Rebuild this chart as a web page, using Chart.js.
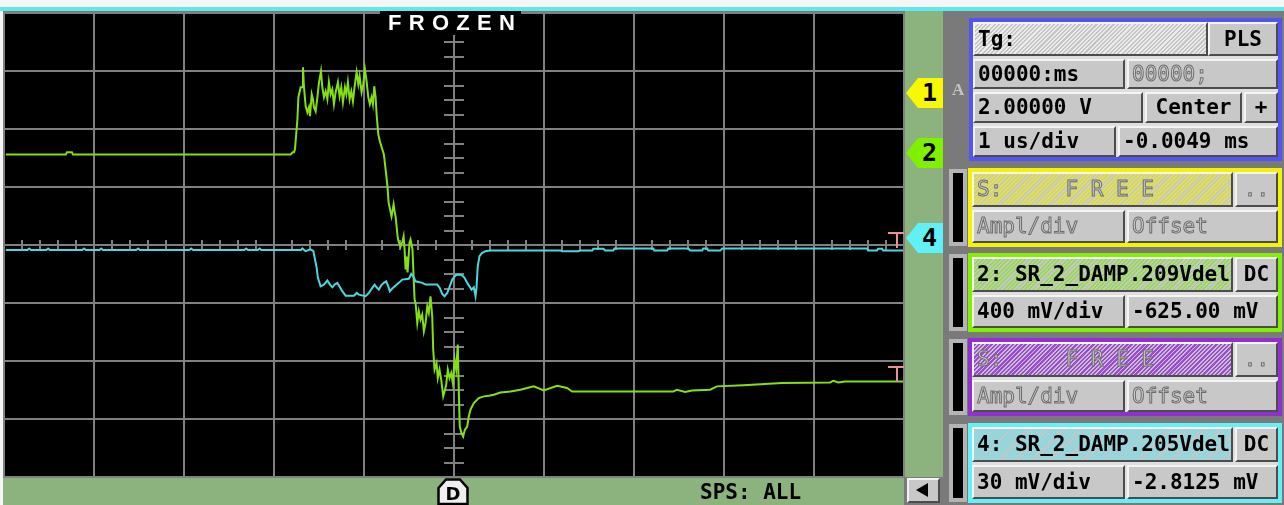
<!DOCTYPE html>
<html>
<head>
<meta charset="utf-8">
<script src="https://cdn.jsdelivr.net/npm/chart.js@4.4.0/dist/chart.umd.min.js"></script>
<style>
body{margin:0;width:1284px;height:505px;overflow:hidden;background:#7a7a7a;position:relative;font-family:"DejaVu Sans Mono",monospace}
.abs{position:absolute}
#scope{position:absolute;left:0;top:0;z-index:1}
.c{position:absolute;box-sizing:border-box;background:#c8c8c8;border:2px solid;border-color:#f4f4f4 #4c4c4c #4c4c4c #f4f4f4;
   font:bold 21px "DejaVu Sans Mono",monospace;color:#000;padding-left:3px;white-space:pre;overflow:hidden;z-index:4}
.ctr{text-align:center;padding-left:0}
.dis{color:#d0d0d0;-webkit-text-stroke:1px #6c6c6c;font-weight:normal}
.fr{position:absolute;box-sizing:border-box;border:4px solid;background:#dedede;z-index:3}
.bar{position:absolute;box-sizing:border-box;left:949px;width:18px;border:4px solid #b4b4b4;background:#000;z-index:3}
.hg{background:repeating-linear-gradient(135deg,#ececec 0 1.5px,#c4c4c4 1.5px 3px)}
.hy{background:repeating-linear-gradient(135deg,#e8e820 0 1.3px,#c8c8c8 1.3px 3px)}
.hgr{background:repeating-linear-gradient(135deg,#8ee040 0 1.3px,#c6c6c6 1.3px 3px)}
.hp{background:repeating-linear-gradient(135deg,#a048d8 0 1.7px,#c4c4c4 1.7px 3px)}
.hc{background:repeating-linear-gradient(135deg,#6ce4f0 0 1.3px,#c6c6c6 1.3px 3px)}
.mk{position:absolute;left:906px;width:37px;height:30px;clip-path:polygon(0 50%,12px 0,100% 0,100% 100%,12px 100%);
    font:bold 25px "DejaVu Sans Mono",monospace;line-height:30px;text-align:right;padding-right:6px;box-sizing:border-box;z-index:3}
</style>
</head>
<body>
<div class="abs" style="left:0;top:0;width:1284px;height:7px;background:#f6f6f6"></div>
<div class="abs" style="left:0;top:7px;width:1284px;height:4px;background:#5ee8f0"></div>
<div class="abs" style="left:0;top:11px;width:3px;height:494px;background:#f6f6f6"></div>
<div class="abs" style="left:905px;top:11px;width:38px;height:466px;background:#8cb27e"></div>
<div class="abs" style="left:3px;top:478px;width:901px;height:27px;background:#8cb27e"></div>

<canvas id="scope" width="1284" height="505"></canvas>

<div class="abs" style="left:380px;top:11px;width:141px;height:24px;background:#000;z-index:3"></div>
<div class="abs" style="left:388px;top:12px;z-index:4;color:#fff;font:bold 22px 'Liberation Sans',sans-serif;letter-spacing:7.3px;line-height:22px">FROZEN</div>

<svg class="abs" style="left:437px;top:478px;z-index:3" width="32" height="27">
  <polygon points="1.5,26 1.5,10 9,1.5 23,1.5 30.5,10 30.5,26" fill="#efefef" stroke="#000" stroke-width="2.5"/>
  <text x="16" y="22" text-anchor="middle" font-family="DejaVu Sans" font-weight="bold" font-size="18">D</text>
</svg>
<div class="abs" style="left:700px;top:480px;z-index:3;font:bold 21px 'DejaVu Sans Mono',monospace;line-height:25px;white-space:pre">SPS: ALL</div>

<div class="c" style="left:907px;top:478px;width:33px;height:25px"></div>
<div class="abs" style="left:916px;top:483px;width:0;height:0;border-top:7px solid transparent;border-bottom:7px solid transparent;border-right:12px solid #000;z-index:5"></div>

<div class="mk" style="top:78px;background:#f8f800">1</div>
<div class="mk" style="top:138px;background:#80f000">2</div>
<div class="mk" style="top:223px;background:#60f0f8">4</div>
<div class="abs" style="left:952px;top:80px;color:#c4c4c4;font:bold 17px 'Liberation Serif',serif;z-index:3">A</div>

<!-- timebase / trigger block -->
<div class="fr" style="left:969px;top:18px;width:313px;height:143px;border-color:#5454f4"></div>
<div class="c hg" style="left:973px;top:22px;width:235px;height:34px;line-height:30px">Tg:</div>
<div class="c ctr" style="left:1208px;top:22px;width:70px;height:34px;line-height:30px">PLS</div>
<div class="c" style="left:973px;top:59px;width:152px;height:30px;line-height:26px">00000:ms</div>
<div class="c dis" style="left:1127px;top:59px;width:151px;height:30px;line-height:26px">00000;</div>
<div class="c" style="left:973px;top:92px;width:170px;height:31px;line-height:27px">2.00000 V</div>
<div class="c ctr" style="left:1145px;top:92px;width:97px;height:31px;line-height:27px">Center</div>
<div class="c ctr" style="left:1244px;top:92px;width:34px;height:31px;line-height:27px">+</div>
<div class="c" style="left:973px;top:126px;width:143px;height:31px;line-height:27px">1 us/div</div>
<div class="c" style="left:1118px;top:126px;width:160px;height:31px;line-height:27px">-0.0049 ms</div>

<!-- channel 1 (free) -->
<div class="bar" style="top:169px;height:77px"></div>
<div class="fr" style="left:968px;top:168px;width:314px;height:79px;border-color:#f4f400"></div>
<div class="c dis hy" style="left:972px;top:172px;width:261px;height:35px;line-height:31px">S:     F R E E</div>
<div class="c dis ctr" style="left:1235px;top:172px;width:43px;height:35px;line-height:31px">..</div>
<div class="c dis" style="left:972px;top:210px;width:153px;height:33px;line-height:29px">Ampl/div</div>
<div class="c dis" style="left:1127px;top:210px;width:151px;height:33px;line-height:29px">Offset</div>

<!-- channel 2 -->
<div class="bar" style="top:254px;height:77px"></div>
<div class="fr" style="left:968px;top:253px;width:314px;height:79px;border-color:#84f000"></div>
<div class="c hgr" style="left:972px;top:257px;width:261px;height:35px;line-height:31px">2: SR_2_DAMP.209Vdel</div>
<div class="c ctr" style="left:1235px;top:257px;width:43px;height:35px;line-height:31px">DC</div>
<div class="c" style="left:972px;top:295px;width:153px;height:33px;line-height:29px">400 mV/div</div>
<div class="c" style="left:1127px;top:295px;width:151px;height:33px;line-height:29px">-625.00 mV</div>

<!-- channel 3 (free) -->
<div class="bar" style="top:339px;height:76px"></div>
<div class="fr" style="left:968px;top:338px;width:314px;height:78px;border-color:#9030d0"></div>
<div class="c dis hp" style="left:972px;top:342px;width:261px;height:35px;line-height:31px">S:     F R E E</div>
<div class="c dis ctr" style="left:1235px;top:342px;width:43px;height:35px;line-height:31px">..</div>
<div class="c dis" style="left:972px;top:380px;width:153px;height:32px;line-height:28px">Ampl/div</div>
<div class="c dis" style="left:1127px;top:380px;width:151px;height:32px;line-height:28px">Offset</div>

<!-- channel 4 -->
<div class="bar" style="top:424px;height:78px"></div>
<div class="fr" style="left:968px;top:423px;width:314px;height:80px;border-color:#64f0f4"></div>
<div class="c hc" style="left:972px;top:427px;width:261px;height:35px;line-height:31px">4: SR_2_DAMP.205Vdel</div>
<div class="c ctr" style="left:1235px;top:427px;width:43px;height:35px;line-height:31px">DC</div>
<div class="c" style="left:972px;top:465px;width:153px;height:34px;line-height:30px">30 mV/div</div>
<div class="c" style="left:1127px;top:465px;width:151px;height:34px;line-height:30px">-2.8125 mV</div>

<script>
// time in us (1 us/div, 10 div), values in mV
var ch2Scale = 400, ch2Offset = -625;
var ch4Scale = 30, ch4Offset = -2.8125;
var trig2Level = -1464, trig4Level = 3.2;

var ch2Time = [-4.98,-4.312,-4.301,-4.245,-4.234,-1.815,-1.792,-1.778,-1.767,-1.740,-1.729,-1.704,-1.685,-1.678,-1.667,-1.648,-1.629,-1.612,-1.600,-1.581,-1.567,-1.556,-1.537,-1.518,-1.501,-1.478,-1.463,-1.445,-1.426,-1.407,-1.390,-1.371,-1.352,-1.334,-1.315,-1.290,-1.271,-1.252,-1.234,-1.212,-1.196,-1.179,-1.160,-1.141,-1.123,-1.104,-1.082,-1.063,-1.049,-1.027,-1.008,-0.990,-0.971,-0.952,-0.935,-0.916,-0.901,-0.886,-0.871,-0.860,-0.841,-0.824,-0.797,-0.779,-0.760,
  -0.738,-0.727,-0.694,-0.671,-0.660,-0.649,-0.627,-0.616,-0.594,-0.572,-0.560,-0.549,-0.538,-0.527,-0.516,-0.494,-0.483,-0.461,-0.449,-0.438,
  -0.427,-0.408,-0.391,-0.372,-0.353,-0.335,-0.316,-0.297,-0.280,-0.261,-0.242,-0.231,-0.216,-0.194,-0.180,-0.161,-0.142,-0.120,-0.105,-0.087,-0.069,-0.050,-0.031,-0.013,0.006,0.024,0.042,0.053,0.064,0.083,0.102,0.120,0.147,0.164,0.183,0.220,0.275,0.331,0.386,0.442,0.516,0.627,
  0.738,0.812,0.886,0.997,1.145,1.256,1.312,2.439,2.477,2.569,2.644,2.847,2.921,3.216,3.643,4.179,4.215,4.271,4.345,4.99];
var ch2Volt = [0,0,14,14,0,0,14,14,35,242,394,463,463,601,463,332,290,325,263,415,380,325,297,394,491,574,463,394,435,380,498,415,449,346,429,498,401,463,359,463,415,498,380,435,366,470,567,484,539,429,484,588,504,394,346,394,346,470,394,277,138,90,35,0,-103,
  -228,-331,-428,-345,-394,-428,-566,-601,-635,-601,-566,-656,-794,-704,-815,-608,-587,-656,-843,-1001,
  -1024,-1162,-1082,-1140,-1105,-1220,-1162,-1048,-1093,-979,-1117,-1347,-1485,-1439,-1542,-1485,-1554,-1669,-1635,-1589,-1485,-1542,-1508,-1577,-1416,-1485,-1312,-1623,-1877,-1922,-1946,-1900,-1877,-1808,-1761,-1715,-1681,-1669,-1665,-1658,-1642,-1635,
  -1623,-1611,-1600,-1628,-1596,-1611,-1635,-1635,-1623,-1639,-1628,-1623,-1600,-1593,-1577,-1573,-1561,-1573,-1566,-1566];

var ch4Time = [-4.98,-4.74,-4.72,-4.70,-4.53,-4.51,-4.49,-4.13,-4.11,-4.09,-3.94,-3.92,-3.90,-3.53,-3.51,-3.49,-2.94,-2.92,-2.90,-2.33,-2.31,-2.29,-2.18,-2.16,-2.14,
  -1.70,-1.685,-1.648,-1.593,-1.563,-1.548,-1.526,-1.512,-1.482,-1.445,-1.407,-1.378,-1.352,-1.326,-1.296,-1.267,-1.241,-1.204,-1.112,-1.082,-1.057,-0.982,-0.946,-0.908,-0.882,-0.860,-0.835,-0.808,-0.779,-0.753,-0.730,-0.713,-0.686,-0.613,-0.575,-0.502,-0.475,-0.453,-0.427,-0.353,-0.316,-0.186,-0.158,-0.131,-0.105,-0.075,-0.047,-0.020,0.017,0.053,0.091,0.117,0.147,0.172,0.194,0.220,0.239,0.250,0.264,0.283,0.313,0.350,0.405,0.438,
  1.182,1.204,1.382,1.404,1.537,1.548,1.659,1.681,1.770,1.782,2.214,2.225,2.369,2.381,2.603,2.625,2.758,2.769,2.814,2.825,2.958,2.981,4.590,4.601,4.701,4.712,4.756,4.767,4.99];
var ch4Volt = [-5.4,-5.4,-4.6,-5.4,-5.4,-4.6,-5.4,-5.4,-4.6,-5.4,-5.4,-4.6,-5.4,-5.4,-4.6,-5.4,-5.4,-4.6,-5.4,-5.4,-4.6,-5.4,-5.4,-4.6,-5.4,
  -5.4,-4.6,-6.0,-5.1,-6.0,-9.4,-14.6,-19.8,-24.2,-23.3,-21.2,-23.3,-24.7,-23.3,-22.4,-24.7,-26.7,-29.0,-29.0,-27.6,-28.5,-29.3,-27.6,-25.0,-23.3,-24.7,-25.9,-23.6,-22.4,-21.6,-24.2,-26.7,-25.3,-22.4,-20.7,-20.3,-17.7,-19.0,-21.6,-22.4,-23.3,-23.3,-25.0,-28.1,-29.3,-27.6,-24.2,-20.7,-18.5,-18.1,-18.5,-19.8,-22.4,-24.2,-25.9,-24.7,-29.3,-25.0,-13.8,-8.6,-6.9,-6.0,-5.7,-5.7,
  -5.7,-6.0,-6.0,-5.7,-5.7,-4.8,-4.8,-5.7,-5.7,-4.6,-4.6,-5.7,-5.7,-4.6,-4.6,-5.7,-5.7,-4.6,-4.6,-5.7,-5.7,-4.6,-4.6,-5.7,-5.7,-4.8,-4.8,-5.7,-5.7];

var gridColor = '#808080';

function pairs(t, v) {
  return t.map(function(x, i){ return {x: x, y: v[i]}; });
}

var scopeDecor = {
  id: 'scopeDecor',
  beforeDraw: function(chart) {
    var a = chart.chartArea, ctx = chart.ctx;
    ctx.save();
    ctx.fillStyle = '#000';
    ctx.fillRect(a.left, a.top, a.right - a.left, a.bottom - a.top);
    ctx.restore();
  },
  beforeDatasetsDraw: function(chart) {
    var ctx = chart.ctx, x = chart.scales.x, y = chart.scales.y;
    var cx = Math.round(x.getPixelForValue(0)), cy = Math.round(y.getPixelForValue(0));
    ctx.save();
    ctx.strokeStyle = gridColor;
    ctx.lineWidth = 2;
    ctx.beginPath();
    for (var i = -16; i <= 16; i++) {
      if (i % 4 === 0) continue;
      var py = Math.round(y.getPixelForValue(i / 4));
      ctx.moveTo(cx - 10, py); ctx.lineTo(cx + 10, py);
    }
    for (var j = -25; j <= 25; j++) {
      if (j % 5 === 0) continue;
      var px = Math.round(x.getPixelForValue(j / 5));
      ctx.moveTo(px, cy - 5); ctx.lineTo(px, cy + 5);
    }
    ctx.stroke();
    ctx.restore();
  },
  afterDatasetsDraw: function(chart) {
    var ctx = chart.ctx, a = chart.chartArea;
    var levels = [chart.scales.y4.getPixelForValue(trig4Level), chart.scales.y2.getPixelForValue(trig2Level)];
    ctx.save();
    ctx.strokeStyle = '#e8909a';
    ctx.lineWidth = 2;
    levels.forEach(function(ly){
      ly = Math.round(ly);
      ctx.beginPath();
      ctx.moveTo(a.right - 16, ly); ctx.lineTo(a.right, ly);
      ctx.moveTo(a.right - 7, ly); ctx.lineTo(a.right - 7, ly + 15);
      ctx.stroke();
    });
    ctx.restore();
  }
};

var ctxscope = document.getElementById('scope').getContext('2d');
var chartscope = new Chart(ctxscope, {
  type: 'line',
  data: {
    datasets: [{
      label: '2: SR_2_DAMP.209Vdel',
      data: pairs(ch2Time, ch2Volt),
      yAxisID: 'y2',
      borderColor: '#84e010',
      borderWidth: 2,
      pointRadius: 0,
      tension: 0,
      order: 2
    }, {
      label: '4: SR_2_DAMP.205Vdel',
      data: pairs(ch4Time, ch4Volt),
      yAxisID: 'y4',
      borderColor: '#4cd6e0',
      borderWidth: 2,
      pointRadius: 0,
      tension: 0,
      order: 1
    }]
  },
  options: {
    responsive: false,
    animation: false,
    events: [],
    layout: { padding: { left: 4, top: 13, right: 380, bottom: 28 } },
    plugins: { legend: { display: false }, tooltip: { enabled: false } },
    scales: {
      x: {
        type: 'linear', min: -5, max: 5,
        ticks: { display: false, stepSize: 1 },
        grid: { color: gridColor, lineWidth: 2, drawTicks: false },
        border: { display: false }
      },
      y: {
        type: 'linear', min: -4, max: 4,
        ticks: { display: false, stepSize: 1 },
        grid: { color: gridColor, lineWidth: 2, drawTicks: false },
        border: { display: false }
      },
      y2: { display: false, min: ch2Offset - 4 * ch2Scale, max: ch2Offset + 4 * ch2Scale },
      y4: { display: false, min: ch4Offset - 4 * ch4Scale, max: ch4Offset + 4 * ch4Scale }
    }
  },
  plugins: [scopeDecor]
});
</script>
</body>
</html>
